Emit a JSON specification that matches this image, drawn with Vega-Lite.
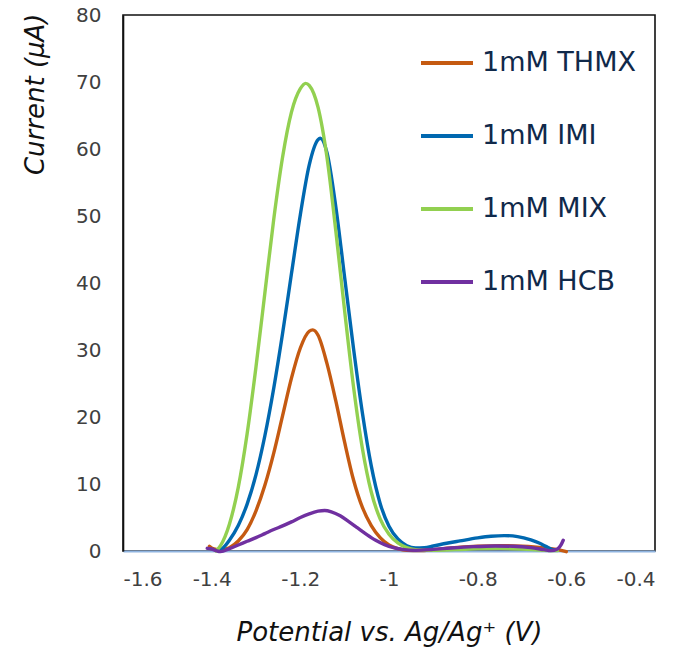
{
  "$schema": "https://vega.github.io/schema/vega-lite/v6.json",
  "width": 532,
  "height": 536,
  "autosize": {"type": "none"},
  "padding": {"left": 123, "top": 15, "right": 21, "bottom": 101},
  "background": "white",
  "config": {
    "font": "DejaVu Sans",
    "view": {"stroke": "#111111", "strokeWidth": 1.6}
  },
  "datasets": {
    "voltammograms": [
      {"series": "1mM THMX", "potential": -1.405, "current": 0.7},
      {"series": "1mM THMX", "potential": -1.395, "current": 0.3},
      {"series": "1mM THMX", "potential": -1.38, "current": 0.15},
      {"series": "1mM THMX", "potential": -1.36, "current": 0.5},
      {"series": "1mM THMX", "potential": -1.34, "current": 1.5},
      {"series": "1mM THMX", "potential": -1.32, "current": 3.2},
      {"series": "1mM THMX", "potential": -1.3, "current": 6.0},
      {"series": "1mM THMX", "potential": -1.28, "current": 9.8},
      {"series": "1mM THMX", "potential": -1.26, "current": 14.6},
      {"series": "1mM THMX", "potential": -1.24, "current": 20.2},
      {"series": "1mM THMX", "potential": -1.22, "current": 25.8},
      {"series": "1mM THMX", "potential": -1.2, "current": 30.3},
      {"series": "1mM THMX", "potential": -1.18, "current": 32.8},
      {"series": "1mM THMX", "potential": -1.172, "current": 33.0},
      {"series": "1mM THMX", "potential": -1.16, "current": 32.2},
      {"series": "1mM THMX", "potential": -1.14, "current": 28.0},
      {"series": "1mM THMX", "potential": -1.12, "current": 22.4},
      {"series": "1mM THMX", "potential": -1.1, "current": 16.2},
      {"series": "1mM THMX", "potential": -1.08, "current": 10.6},
      {"series": "1mM THMX", "potential": -1.06, "current": 6.5},
      {"series": "1mM THMX", "potential": -1.04, "current": 3.8},
      {"series": "1mM THMX", "potential": -1.02, "current": 2.0},
      {"series": "1mM THMX", "potential": -1.0, "current": 0.9},
      {"series": "1mM THMX", "potential": -0.98, "current": 0.35},
      {"series": "1mM THMX", "potential": -0.96, "current": 0.1},
      {"series": "1mM THMX", "potential": -0.93, "current": 0.05},
      {"series": "1mM THMX", "potential": -0.9, "current": 0.2},
      {"series": "1mM THMX", "potential": -0.86, "current": 0.45},
      {"series": "1mM THMX", "potential": -0.8, "current": 0.7},
      {"series": "1mM THMX", "potential": -0.75, "current": 0.8},
      {"series": "1mM THMX", "potential": -0.7, "current": 0.7},
      {"series": "1mM THMX", "potential": -0.65, "current": 0.45},
      {"series": "1mM THMX", "potential": -0.62, "current": 0.2},
      {"series": "1mM THMX", "potential": -0.6, "current": -0.1},

      {"series": "1mM IMI", "potential": -1.385, "current": 0.0},
      {"series": "1mM IMI", "potential": -1.375, "current": 0.4},
      {"series": "1mM IMI", "potential": -1.36, "current": 1.6},
      {"series": "1mM IMI", "potential": -1.34, "current": 3.8},
      {"series": "1mM IMI", "potential": -1.32, "current": 7.0},
      {"series": "1mM IMI", "potential": -1.3, "current": 11.4},
      {"series": "1mM IMI", "potential": -1.28, "current": 17.2},
      {"series": "1mM IMI", "potential": -1.26, "current": 24.3},
      {"series": "1mM IMI", "potential": -1.24, "current": 32.5},
      {"series": "1mM IMI", "potential": -1.22, "current": 41.4},
      {"series": "1mM IMI", "potential": -1.2, "current": 50.2},
      {"series": "1mM IMI", "potential": -1.18, "current": 57.6},
      {"series": "1mM IMI", "potential": -1.16, "current": 61.4},
      {"series": "1mM IMI", "potential": -1.155, "current": 61.6},
      {"series": "1mM IMI", "potential": -1.14, "current": 59.5},
      {"series": "1mM IMI", "potential": -1.12, "current": 51.4},
      {"series": "1mM IMI", "potential": -1.1, "current": 40.8},
      {"series": "1mM IMI", "potential": -1.08, "current": 30.2},
      {"series": "1mM IMI", "potential": -1.06, "current": 20.6},
      {"series": "1mM IMI", "potential": -1.04, "current": 12.7},
      {"series": "1mM IMI", "potential": -1.02, "current": 7.1},
      {"series": "1mM IMI", "potential": -1.0, "current": 3.7},
      {"series": "1mM IMI", "potential": -0.98, "current": 1.8},
      {"series": "1mM IMI", "potential": -0.96, "current": 0.8},
      {"series": "1mM IMI", "potential": -0.94, "current": 0.45},
      {"series": "1mM IMI", "potential": -0.92, "current": 0.5},
      {"series": "1mM IMI", "potential": -0.9, "current": 0.75},
      {"series": "1mM IMI", "potential": -0.87, "current": 1.15},
      {"series": "1mM IMI", "potential": -0.84, "current": 1.5},
      {"series": "1mM IMI", "potential": -0.8, "current": 1.95},
      {"series": "1mM IMI", "potential": -0.77, "current": 2.2},
      {"series": "1mM IMI", "potential": -0.74, "current": 2.3},
      {"series": "1mM IMI", "potential": -0.71, "current": 2.15},
      {"series": "1mM IMI", "potential": -0.68, "current": 1.65},
      {"series": "1mM IMI", "potential": -0.66, "current": 1.15},
      {"series": "1mM IMI", "potential": -0.645, "current": 0.65},
      {"series": "1mM IMI", "potential": -0.63, "current": 0.2},
      {"series": "1mM IMI", "potential": -0.62, "current": 0.15},

      {"series": "1mM MIX", "potential": -1.39, "current": 0.0},
      {"series": "1mM MIX", "potential": -1.38, "current": 0.8},
      {"series": "1mM MIX", "potential": -1.36, "current": 4.0},
      {"series": "1mM MIX", "potential": -1.34, "current": 9.5},
      {"series": "1mM MIX", "potential": -1.32, "current": 17.5},
      {"series": "1mM MIX", "potential": -1.3, "current": 27.5},
      {"series": "1mM MIX", "potential": -1.28, "current": 38.5},
      {"series": "1mM MIX", "potential": -1.26, "current": 49.5},
      {"series": "1mM MIX", "potential": -1.24, "current": 58.8},
      {"series": "1mM MIX", "potential": -1.22, "current": 65.5},
      {"series": "1mM MIX", "potential": -1.2, "current": 69.0},
      {"series": "1mM MIX", "potential": -1.188, "current": 69.8},
      {"series": "1mM MIX", "potential": -1.18, "current": 69.5},
      {"series": "1mM MIX", "potential": -1.16, "current": 66.2},
      {"series": "1mM MIX", "potential": -1.14, "current": 58.8},
      {"series": "1mM MIX", "potential": -1.12, "current": 47.8},
      {"series": "1mM MIX", "potential": -1.1, "current": 35.8},
      {"series": "1mM MIX", "potential": -1.08, "current": 24.5},
      {"series": "1mM MIX", "potential": -1.06, "current": 15.3},
      {"series": "1mM MIX", "potential": -1.04, "current": 8.8},
      {"series": "1mM MIX", "potential": -1.02, "current": 4.8},
      {"series": "1mM MIX", "potential": -1.0, "current": 2.5},
      {"series": "1mM MIX", "potential": -0.98, "current": 1.2},
      {"series": "1mM MIX", "potential": -0.96, "current": 0.5},
      {"series": "1mM MIX", "potential": -0.94, "current": 0.2},
      {"series": "1mM MIX", "potential": -0.9, "current": 0.1},
      {"series": "1mM MIX", "potential": -0.85, "current": 0.2},
      {"series": "1mM MIX", "potential": -0.8, "current": 0.35},
      {"series": "1mM MIX", "potential": -0.75, "current": 0.4},
      {"series": "1mM MIX", "potential": -0.7, "current": 0.3},
      {"series": "1mM MIX", "potential": -0.65, "current": 0.1},
      {"series": "1mM MIX", "potential": -0.62, "current": 0.05},

      {"series": "1mM HCB", "potential": -1.41, "current": 0.4},
      {"series": "1mM HCB", "potential": -1.4, "current": 0.3},
      {"series": "1mM HCB", "potential": -1.39, "current": 0.05},
      {"series": "1mM HCB", "potential": -1.38, "current": -0.1},
      {"series": "1mM HCB", "potential": -1.36, "current": 0.35},
      {"series": "1mM HCB", "potential": -1.34, "current": 0.9},
      {"series": "1mM HCB", "potential": -1.32, "current": 1.45},
      {"series": "1mM HCB", "potential": -1.3, "current": 2.0},
      {"series": "1mM HCB", "potential": -1.28, "current": 2.6},
      {"series": "1mM HCB", "potential": -1.26, "current": 3.2},
      {"series": "1mM HCB", "potential": -1.24, "current": 3.75},
      {"series": "1mM HCB", "potential": -1.22, "current": 4.35},
      {"series": "1mM HCB", "potential": -1.2, "current": 5.0},
      {"series": "1mM HCB", "potential": -1.18, "current": 5.55},
      {"series": "1mM HCB", "potential": -1.16, "current": 5.95},
      {"series": "1mM HCB", "potential": -1.145, "current": 6.05},
      {"series": "1mM HCB", "potential": -1.13, "current": 5.85},
      {"series": "1mM HCB", "potential": -1.11, "current": 5.25},
      {"series": "1mM HCB", "potential": -1.09, "current": 4.35},
      {"series": "1mM HCB", "potential": -1.07, "current": 3.4},
      {"series": "1mM HCB", "potential": -1.05, "current": 2.45},
      {"series": "1mM HCB", "potential": -1.03, "current": 1.6},
      {"series": "1mM HCB", "potential": -1.01, "current": 0.95},
      {"series": "1mM HCB", "potential": -0.99, "current": 0.5},
      {"series": "1mM HCB", "potential": -0.97, "current": 0.25},
      {"series": "1mM HCB", "potential": -0.94, "current": 0.1},
      {"series": "1mM HCB", "potential": -0.9, "current": 0.25},
      {"series": "1mM HCB", "potential": -0.86, "current": 0.45},
      {"series": "1mM HCB", "potential": -0.81, "current": 0.65},
      {"series": "1mM HCB", "potential": -0.76, "current": 0.75},
      {"series": "1mM HCB", "potential": -0.72, "current": 0.7},
      {"series": "1mM HCB", "potential": -0.68, "current": 0.5},
      {"series": "1mM HCB", "potential": -0.65, "current": 0.2},
      {"series": "1mM HCB", "potential": -0.635, "current": 0.05},
      {"series": "1mM HCB", "potential": -0.62, "current": 0.3},
      {"series": "1mM HCB", "potential": -0.612, "current": 0.9},
      {"series": "1mM HCB", "potential": -0.607, "current": 1.6}
    ]
  },
  "data": {"name": "voltammograms"},
  "mark": {"type": "line", "strokeWidth": 3.4, "interpolate": "monotone", "strokeCap": "round", "strokeJoin": "round"},
  "encoding": {
    "x": {
      "field": "potential",
      "type": "quantitative",
      "scale": {"domain": [-1.6, -0.4], "nice": false, "zero": false},
      "axis": {
        "values": [-1.6, -1.4, -1.2, -1.0, -0.8, -0.6, -0.4],
        "labelExpr": "toString(datum.value)",
        "ticks": false,
        "grid": false,
        "domainColor": "#8FB4E0",
        "domainWidth": 2.2,
        "labelFont": "DejaVu Sans",
        "labelFontSize": 20,
        "labelColor": "#404040",
        "labelPadding": 18,
        "title": "Potential vs. Ag/Ag⁺ (V)",
        "titleFont": "DejaVu Sans",
        "titleFontSize": 26,
        "titleFontStyle": "italic",
        "titleFontWeight": "normal",
        "titleColor": "#111111",
        "titleBaseline": "alphabetic",
        "titleY": 89
      }
    },
    "y": {
      "field": "current",
      "type": "quantitative",
      "scale": {"domain": [0, 80], "nice": false, "zero": false},
      "axis": {
        "values": [0, 10, 20, 30, 40, 50, 60, 70, 80],
        "ticks": false,
        "grid": false,
        "domainColor": "#111111",
        "domainWidth": 1.6,
        "labelFont": "DejaVu Sans",
        "labelFontSize": 20,
        "labelColor": "#404040",
        "labelPadding": 22,
        "title": "Current (μA)",
        "titleFont": "DejaVu Sans",
        "titleFontSize": 26,
        "titleFontStyle": "italic",
        "titleFontWeight": "normal",
        "titleColor": "#111111",
        "titleAnchor": "end",
        "titleAlign": "right",
        "titleBaseline": "alphabetic",
        "titleX": -80,
        "titleY": -2
      }
    },
    "color": {
      "field": "series",
      "type": "nominal",
      "sort": ["1mM THMX", "1mM IMI", "1mM MIX", "1mM HCB"],
      "scale": {
        "domain": ["1mM THMX", "1mM IMI", "1mM MIX", "1mM HCB"],
        "range": ["#C55A11", "#0068B0", "#92D050", "#7030A0"]
      },
      "legend": {
        "title": null,
        "orient": "none",
        "legendX": 296,
        "legendY": 20,
        "padding": 0,
        "symbolType": "stroke",
        "symbolSize": 2704,
        "symbolStrokeWidth": 4,
        "labelFont": "DejaVu Sans",
        "labelFontSize": 27,
        "labelColor": "#10294A",
        "labelOffset": 7,
        "rowPadding": 32
      }
    }
  }
}
